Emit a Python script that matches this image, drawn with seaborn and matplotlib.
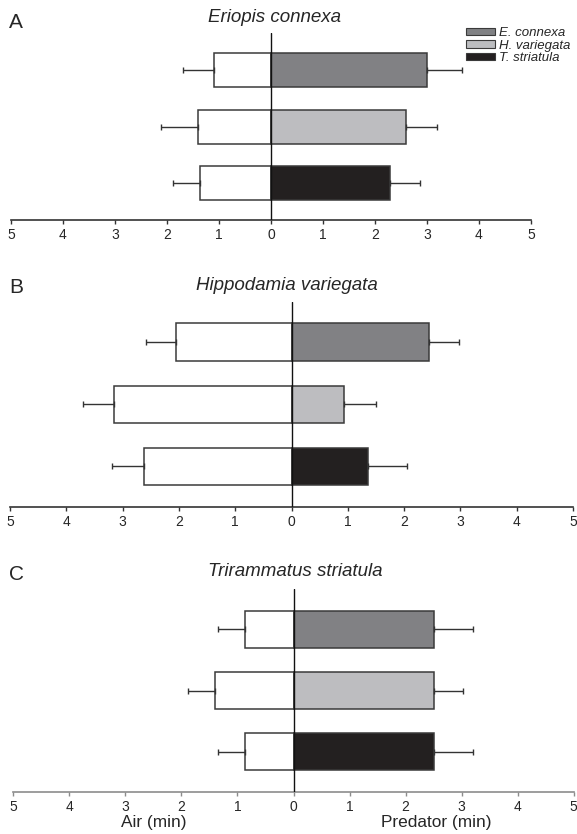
import numpy as np
import pandas as pd
import matplotlib
matplotlib.use("Agg")
import matplotlib.pyplot as plt
import matplotlib.ticker as ticker
from matplotlib.patches import Patch
import seaborn as sns

# data
species = ["E. connexa", "H. variegata", "T. striatula"]
colors = ["#808184", "#bcbdc0", "#231f20"]
panel_letters = ["A", "B", "C"]
panel_titles = ["Eriopis connexa", "Hippodamia variegata", "Trirammatus striatula"]

pred_mean = [[3.00, 2.59, 2.29], [2.45, 0.94, 1.36], [2.50, 2.50, 2.50]]
pred_se = [[0.67, 0.61, 0.57], [0.52, 0.56, 0.70], [0.71, 0.52, 0.71]]
air_mean = [[1.10, 1.40, 1.36], [2.06, 3.15, 2.62], [0.87, 1.40, 0.87]]
air_se = [[0.59, 0.71, 0.53], [0.53, 0.56, 0.56], [0.48, 0.49, 0.48]]

xticks = [-5, -4, -3, -2, -1, 0, 1, 2, 3, 4, 5]

sns.set_style("white")
plt.rcParams["font.family"] = ["Liberation Sans", "DejaVu Sans"]

W, H = 577, 834
fig = plt.figure(figsize=(W / 100, H / 100), dpi=100)

# axes boxes in pixels: left, right, top, bottom
boxes = [(11, 531, 33, 220), (10, 573, 301.7, 506.7), (13.3, 573.7, 589.3, 791.7)]
title_pos = [(275, 18), (286.5, 285), (295.5, 572)]
letter_pos = [(16, 22), (16, 287), (16, 575)]
spine_cols = ["#333333", "#333333", "#8c8c8c"]

edge = "#3a3a3a"

for i in range(3):
    l, r, t, b = boxes[i]
    ax = fig.add_axes([l / W, 1 - b / H, (r - l) / W, (b - t) / H])

    df = pd.DataFrame({
        "species": species,
        "pred": pred_mean[i],
        "air": -np.array(air_mean[i]),
    })

    sns.barplot(data=df, x="air", y="species", color="white", orient="h",
                width=0.6, edgecolor=edge, linewidth=1.1, ax=ax)
    sns.barplot(data=df, x="pred", y="species", hue="species", palette=colors,
                orient="h", width=0.6, edgecolor=edge, linewidth=1.1,
                legend=False, ax=ax)

    pos = np.arange(len(species))
    zeros = np.zeros(len(species))
    ax.errorbar(df["pred"], pos, xerr=[zeros, pred_se[i]], fmt="none",
                ecolor="#333333", elinewidth=1, capsize=2.2, capthick=1)
    ax.errorbar(df["air"], pos, xerr=[air_se[i], zeros], fmt="none",
                ecolor="#333333", elinewidth=1, capsize=2.2, capthick=1)

    ax.axvline(0, color="#111111", linewidth=1, zorder=5)

    ax.set_xlim(-5, 5)
    ax.set_ylim(2.65, -0.65)
    ax.set_xticks(xticks)
    ax.xaxis.set_major_formatter(ticker.FuncFormatter(lambda v, p: f"{abs(v):.0f}"))
    ax.set_yticks([])
    ax.set_xlabel("")
    ax.set_ylabel("")
    for s in ["top", "left", "right"]:
        ax.spines[s].set_visible(False)
    ax.spines["bottom"].set_color(spine_cols[i])
    ax.spines["bottom"].set_linewidth(1.2)
    ax.tick_params(axis="x", direction="out", length=3, width=1,
                   color=spine_cols[i], labelsize=10, pad=3, bottom=True)

    fig.text(title_pos[i][0] / W, 1 - title_pos[i][1] / H, panel_titles[i],
             fontsize=13.5, style="italic", ha="center", va="center")
    fig.text(letter_pos[i][0] / W, 1 - letter_pos[i][1] / H, panel_letters[i],
             fontsize=15, ha="center", va="center")

    if i == 0:
        handles = [Patch(facecolor=c, edgecolor=edge, linewidth=0.8) for c in colors]
        leg = ax.legend(handles, species, loc="upper left",
                        bbox_to_anchor=(466 / W, 1 - 27 / H),
                        bbox_transform=fig.transFigure, frameon=False,
                        fontsize=9.5, borderpad=0, borderaxespad=0,
                        handlelength=2.2, handleheight=0.45, handletextpad=0.3,
                        labelspacing=0.05)
        for txt in leg.get_texts():
            txt.set_style("italic")

fig.text(153.5 / W, 1 - 823 / H, "Air (min)", fontsize=12.4, ha="center", va="center")
fig.text(436 / W, 1 - 823 / H, "Predator (min)", fontsize=12.4, ha="center", va="center")

fig.savefig("out.png", dpi=100)
